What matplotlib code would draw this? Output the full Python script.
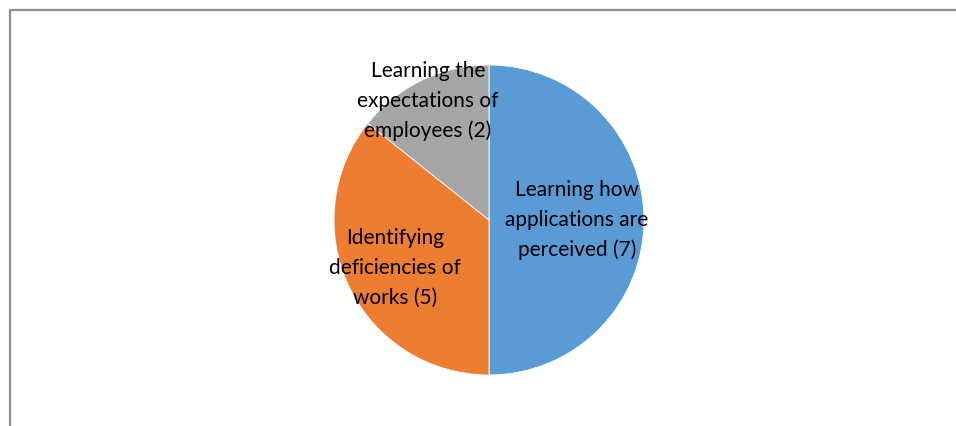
import numpy as np
import matplotlib.pyplot as plt

labels = ["Learning how\napplications are\nperceived (7)",
          "Identifying\ndeficiencies of\nworks (5)",
          "Learning the\nexpectations of\nemployees (2)"]
values = [7, 5, 2]
colors = ["#5B9BD5", "#ED7D31", "#A5A5A5"]

W, H = 956, 426
fig = plt.figure(figsize=(W / 100, H / 100), dpi=100)
ax = fig.add_axes([0, 0, 1, 1])
ax.set_xlim(0, W)
ax.set_ylim(H, 0)
ax.axis("off")

# outer chart frame (only left and top edges visible)
ax.plot([10, 10, W + 5], [H + 5, 10, 10], color="#8c8c8c", lw=1.6, clip_on=False)

cx, cy, r = 489, 220, 155
# y axis is inverted, so counterclock=True draws clockwise on screen
wedges, texts = ax.pie(values, colors=colors, startangle=-90, counterclock=True,
                       center=(cx, cy), radius=r, labels=labels,
                       wedgeprops=dict(edgecolor="white", linewidth=0.6),
                       textprops=dict(fontsize=15, family="Lato", color="black",
                                      ha="center", va="center", linespacing=1.6))
ax.set_xlim(0, W)
ax.set_ylim(H, 0)
ax.set_aspect("auto")

label_pos = [(577, 220), (395, 268), (428, 101)]
for t, p in zip(texts, label_pos):
    t.set_position(p)
    t.set_ha("center")
    t.set_va("center")
    t.set_multialignment("center")

fig.savefig("out.png", dpi=100)
